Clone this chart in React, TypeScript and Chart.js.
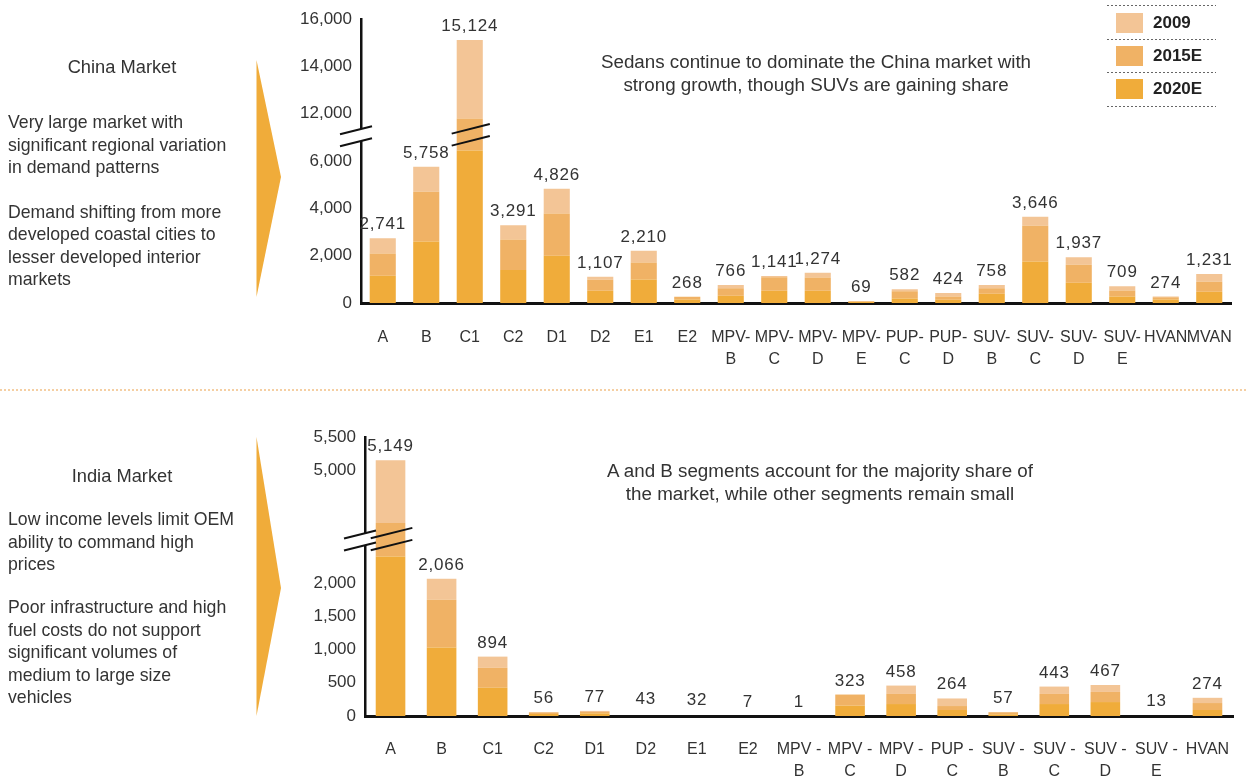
import React, { useEffect, useRef } from "react";
import { Chart, registerables } from "chart.js";
Chart.register(...registerables);

// ---------- China data ----------
const chinaCategories: (string | string[])[] = [
  "A", "B", "C1", "C2", "D1", "D2", "E1", "E2",
  ["MPV-", "B"], ["MPV-", "C"], ["MPV-", "D"], ["MPV-", "E"],
  ["PUP-", "C"], ["PUP-", "D"],
  ["SUV-", "B"], ["SUV-", "C"], ["SUV-", "D"], ["SUV-", "E"],
  "HVAN", "MVAN",
];
const chinaTotals = [2741, 5758, 15124, 3291, 4826, 1107, 2210, 268, 766, 1141, 1274, 69, 582, 424, 758, 3646, 1937, 709, 274, 1231];
const china2020E = [1150, 2600, 6450, 1400, 2000, 520, 990, 150, 310, 520, 520, 45, 185, 140, 395, 1750, 860, 270, 150, 480];
const china2015E = [940, 2100, 5350, 1280, 1780, 465, 720, 118, 315, 565, 555, 24, 310, 130, 225, 1520, 760, 255, 90, 420];
const china2009 = [651, 1058, 3324, 611, 1046, 122, 500, 0, 141, 56, 199, 0, 87, 154, 138, 376, 317, 184, 34, 331];
const chinaTickLabels = [0, 2000, 4000, 6000, 12000, 14000, 16000];

// ---------- India data ----------
const indiaCategories: (string | string[])[] = [
  "A", "B", "C1", "C2", "D1", "D2", "E1", "E2",
  ["MPV -", "B"], ["MPV -", "C"], ["MPV -", "D"], ["PUP -", "C"],
  ["SUV -", "B"], ["SUV -", "C"], ["SUV -", "D"], ["SUV -", "E"],
  "HVAN",
];
const indiaTotals = [5149, 2066, 894, 56, 77, 43, 32, 7, 1, 323, 458, 264, 57, 443, 467, 13, 274];
const india2020E = [2400, 1030, 425, 30, 40, 0, 0, 0, 0, 155, 180, 90, 25, 180, 210, 0, 90];
const india2015E = [1806, 720, 300, 26, 20, 0, 0, 0, 0, 168, 152, 60, 32, 152, 152, 0, 105];
const india2009 = [943, 316, 169, 0, 17, 0, 0, 0, 0, 0, 126, 114, 0, 111, 105, 0, 79];
const indiaTickLabels = [0, 500, 1000, 1500, 2000, 5000, 5500];

const COLOR_2009 = "#F3C596";
const COLOR_2015 = "#F0B265";
const COLOR_2020 = "#F0AC3A";
const FONT = "'Liberation Sans', Arial, sans-serif";
const TEXT = "#333333";

// broken-axis mapping: values up to lo keep their place, values from hi move down by (hi-lo)
function makeBreak(lo: number, hi: number) {
  return (v: number) => (v <= lo ? v : v >= hi ? v - (hi - lo) : lo);
}
const chinaMap = makeBreak(7000, 11000);
const indiaMap = makeBreak(2700, 4000);

function toDisplay(map: (v: number) => number, a: number[], b: number[], c: number[]) {
  const d1: number[] = [], d2: number[] = [], d3: number[] = [];
  a.forEach((_, i) => {
    const c1 = a[i], c2 = a[i] + b[i], c3 = a[i] + b[i] + c[i];
    d1.push(map(c1));
    d2.push(map(c2) - map(c1));
    d3.push(map(c3) - map(c2));
  });
  return [d1, d2, d3];
}

type Cfg = {
  name: string;
  categories: (string | string[])[];
  totals: number[];
  s2020: number[];
  s2015: number[];
  s2009: number[];
  ticks: number[];
  map: (v: number) => number;
  breakCenter: number;
  brokenBars: number[];
  padTop: number;
  padRight: number;
  yWidth: number;
  xHeight: number;
  xPad: number;
  barPct: number;
  width: number;
  height: number;
};

function makeOverlay(cfg: Cfg) {
  return {
    id: "overlay_" + cfg.name,
    afterDraw(chart: any) {
      const ctx = chart.ctx as CanvasRenderingContext2D;
      const y = chart.scales.y;
      const meta = chart.getDatasetMeta(0);
      // totals above bars
      ctx.save();
      ctx.font = `17px ${FONT}`;
      ctx.fillStyle = TEXT;
      ctx.textAlign = "center";
      ctx.textBaseline = "alphabetic";
      try { (ctx as any).letterSpacing = "0.8px"; } catch (e) {}
      cfg.totals.forEach((t, i) => {
        const bx = meta.data[i].x;
        const py = y.getPixelForValue(cfg.map(t));
        ctx.fillText(t.toLocaleString("en-US"), bx, py - 9);
      });
      ctx.restore();
      // axis break marks
      const cy = y.getPixelForValue(cfg.breakCenter);
      const slope = -0.25;
      const half = 6;
      const ax = chart.chartArea.left;
      ctx.save();
      const yAt = (x: number, xc: number, off: number) => cy + off + slope * (x - xc);
      ctx.fillStyle = "#ffffff";
      ctx.beginPath();
      ctx.moveTo(ax - 5, yAt(ax - 5, ax, -half));
      ctx.lineTo(ax + 5, yAt(ax + 5, ax, -half));
      ctx.lineTo(ax + 5, yAt(ax + 5, ax, half));
      ctx.lineTo(ax - 5, yAt(ax - 5, ax, half));
      ctx.closePath();
      ctx.fill();
      ctx.strokeStyle = "#111";
      ctx.lineWidth = 2;
      const seg = (x0: number, x1: number, xc: number) => {
        [-half, half].forEach((off) => {
          ctx.beginPath();
          ctx.moveTo(x0, yAt(x0, xc, off));
          ctx.lineTo(x1, yAt(x1, xc, off));
          ctx.stroke();
        });
      };
      seg(ax - 21, ax + 11, ax);
      cfg.brokenBars.forEach((i) => {
        const el = meta.data[i];
        seg(el.x - el.width / 2 - 5, el.x + el.width / 2 + 7, el.x);
      });
      ctx.restore();
    },
  };
}

function BarChart({ cfg }: { cfg: Cfg }) {
  const ref = useRef<HTMLCanvasElement>(null);
  useEffect(() => {
    if (!ref.current) return;
    const [d1, d2, d3] = toDisplay(cfg.map, cfg.s2020, cfg.s2015, cfg.s2009);
    const common = { barPercentage: cfg.barPct, categoryPercentage: 1, borderWidth: 0 };
    const chart = new Chart(ref.current, {
      type: "bar",
      data: {
        labels: cfg.categories as any,
        datasets: [
          { label: "2020E", data: d1, backgroundColor: COLOR_2020, ...common },
          { label: "2015E", data: d2, backgroundColor: COLOR_2015, ...common },
          { label: "2009", data: d3, backgroundColor: COLOR_2009, ...common },
        ],
      },
      options: {
        responsive: false,
        animation: false,
        layout: { padding: { top: cfg.padTop, right: cfg.padRight, left: 0, bottom: 0 } },
        plugins: { legend: { display: false }, tooltip: { enabled: false } },
        scales: {
          x: {
            stacked: true,
            grid: { display: false, drawTicks: false },
            border: { display: true, color: "#111", width: 3 },
            ticks: {
              autoSkip: false,
              maxRotation: 0,
              minRotation: 0,
              padding: cfg.xPad,
              color: TEXT,
              font: { family: FONT, size: 16, lineHeight: 1.4 },
            },
            afterFit: (s: any) => {
              s.height = cfg.xHeight;
              s.paddingLeft = 0;
              s.paddingRight = 0;
            },
          },
          y: {
            stacked: true,
            min: 0,
            max: cfg.map(cfg.ticks[cfg.ticks.length - 1]),
            grid: { display: false, drawTicks: false },
            border: { display: true, color: "#111", width: 2.5 },
            afterBuildTicks: (s: any) => {
              s.ticks = cfg.ticks.map((v) => ({ value: cfg.map(v) }));
            },
            ticks: {
              padding: 9,
              color: TEXT,
              font: { family: FONT, size: 17 },
              callback: (_v: any, i: number) => cfg.ticks[i].toLocaleString("en-US"),
            },
            afterFit: (s: any) => { s.width = cfg.yWidth; },
          },
        },
      },
      plugins: [makeOverlay(cfg)],
    } as any);
    return () => chart.destroy();
  }, [cfg]);
  return <canvas ref={ref} width={cfg.width} height={cfg.height} style={{ display: "block" }} />;
}

const chinaCfg: Cfg = {
  name: "china",
  categories: chinaCategories,
  totals: chinaTotals,
  s2020: china2020E,
  s2015: china2015E,
  s2009: china2009,
  ticks: chinaTickLabels,
  map: chinaMap,
  breakCenter: 7100,
  brokenBars: [2],
  padTop: 19,
  padRight: 17,
  yWidth: 361,
  xHeight: 82,
  xPad: 23,
  barPct: 0.6,
  width: 1248,
  height: 385,
};

const indiaCfg: Cfg = {
  name: "india",
  categories: indiaCategories,
  totals: indiaTotals,
  s2020: india2020E,
  s2015: india2015E,
  s2009: india2009,
  ticks: indiaTickLabels,
  map: indiaMap,
  breakCenter: 2660,
  brokenBars: [0],
  padTop: 37,
  padRight: 15,
  yWidth: 365,
  xHeight: 66,
  xPad: 22,
  barPct: 0.58,
  width: 1248,
  height: 382,
};

const textStyle: React.CSSProperties = {
  position: "absolute",
  fontFamily: FONT,
  color: TEXT,
  fontSize: 17.7,
  lineHeight: "22.5px",
  whiteSpace: "nowrap",
};

function Arrow({ top, tip, bottom }: { top: number; tip: number; bottom: number }) {
  return (
    <svg style={{ position: "absolute", left: 0, top: 0 }} width={1248} height={782}>
      <polygon points={`256.5,${top} 281,${tip} 256.5,${bottom}`} fill={COLOR_2020} />
    </svg>
  );
}

function Dots({ top, left, width, color, h }: { top: number; left: number; width: number; color: string; h: number }) {
  return (
    <div
      style={{
        position: "absolute",
        top,
        left,
        width,
        height: h,
        backgroundImage: `repeating-linear-gradient(to right, ${color} 0 2px, transparent 2px 4px)`,
      }}
    />
  );
}

export default function App() {
  const legend = [
    { label: "2009", color: COLOR_2009, y: 12.7 },
    { label: "2015E", color: COLOR_2015, y: 46 },
    { label: "2020E", color: COLOR_2020, y: 79.3 },
  ];
  return (
    <div style={{ position: "absolute", left: 0, top: 0, width: 1248, height: 782, background: "#fff", overflow: "hidden" }}>
      <div style={{ position: "absolute", left: 0, top: 0 }}>
        <BarChart cfg={chinaCfg} />
      </div>
      <div style={{ position: "absolute", left: 0, top: 400 }}>
        <BarChart cfg={indiaCfg} />
      </div>

      <Arrow top={60} tip={177} bottom={297} />
      <Arrow top={437} tip={588} bottom={716} />

      {/* left texts: China */}
      <div style={{ ...textStyle, fontSize: 18.3, left: 0, width: 244, textAlign: "center", top: 56 }}>China Market</div>
      <div style={{ ...textStyle, left: 8, top: 111 }}>
        Very large market with<br />significant regional variation<br />in demand patterns
      </div>
      <div style={{ ...textStyle, left: 8, top: 200.5 }}>
        Demand shifting from more<br />developed coastal cities to<br />lesser developed interior<br />markets
      </div>

      {/* left texts: India */}
      <div style={{ ...textStyle, fontSize: 18.3, left: 0, width: 244, textAlign: "center", top: 465 }}>India Market</div>
      <div style={{ ...textStyle, left: 8, top: 508 }}>
        Low income levels limit OEM<br />ability to command high<br />prices
      </div>
      <div style={{ ...textStyle, left: 8, top: 596 }}>
        Poor infrastructure and high<br />fuel costs do not support<br />significant volumes of<br />medium to large size<br />vehicles
      </div>

      {/* annotations */}
      <div style={{ ...textStyle, fontSize: 18.8, left: 516, width: 600, textAlign: "center", top: 51 }}>
        Sedans continue to dominate the China market with<br />strong growth, though SUVs are gaining share
      </div>
      <div style={{ ...textStyle, fontSize: 18.8, left: 520, width: 600, textAlign: "center", top: 460 }}>
        A and B segments account for the majority share of<br />the market, while other segments remain small
      </div>

      {/* separator */}
      <Dots top={389} left={0} width={1248} color="#F5CFA3" h={1.5} />

      {/* legend */}
      {[5, 38.5, 72, 105.5].map((t) => (
        <Dots key={t} top={t} left={1107} width={109} color="#666" h={1.2} />
      ))}
      {legend.map((l) => (
        <React.Fragment key={l.label}>
          <div style={{ position: "absolute", left: 1116, top: l.y, width: 27, height: 20, background: l.color }} />
          <div
            style={{
              ...textStyle,
              fontWeight: "bold",
              fontSize: 17,
              left: 1153,
              top: l.y - 1.2,
              color: "#222",
            }}
          >
            {l.label}
          </div>
        </React.Fragment>
      ))}
    </div>
  );
}
